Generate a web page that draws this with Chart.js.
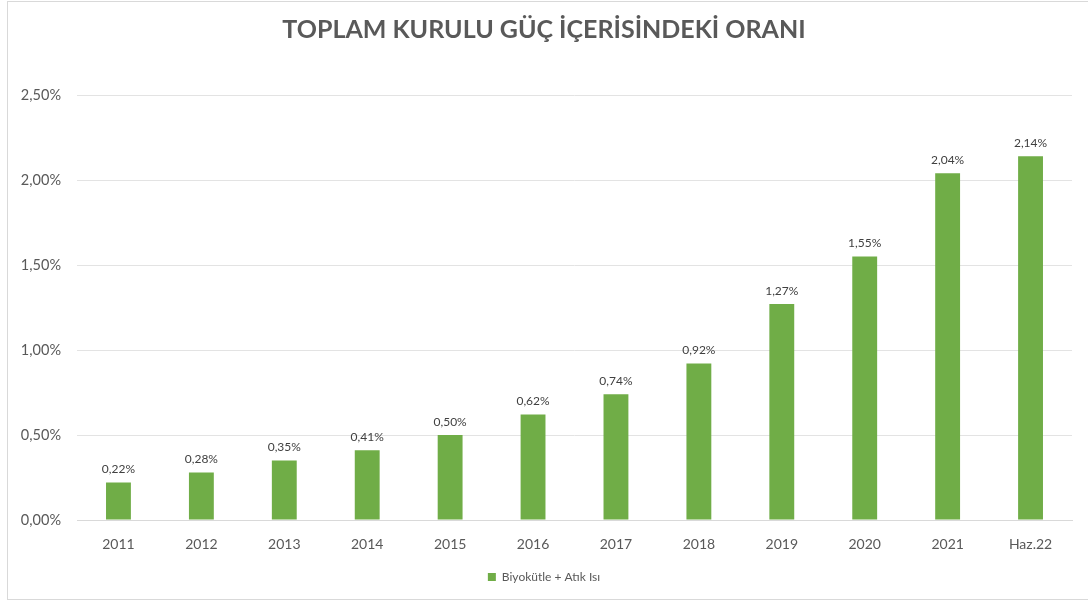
<!DOCTYPE html>
<html>
<head>
  <meta charset="utf-8">
  <title>Toplam Kurulu Güç İçerisindeki Oranı</title>
  <script src="https://cdn.jsdelivr.net/npm/chart.js"></script>
  <style>
    html, body { margin: 0; padding: 0; background: #fff; }
    #frame { position: absolute; left: 7px; top: 1px; width: 1090px; height: 599px; border: 1px solid #d9d9d9; box-sizing: border-box; }
    #wrap { position: absolute; left: 0; top: 0; width: 1088px; height: 603px; }
  </style>
</head>
<body>
  <div id="frame"></div>
  <div id="wrap"><canvas id="chart"></canvas></div>
  <script>
    const years = ['2011', '2012', '2013', '2014', '2015', '2016', '2017', '2018', '2019', '2020', '2021', 'Haz.22'];
    const shares = [0.22, 0.28, 0.35, 0.41, 0.50, 0.62, 0.74, 0.92, 1.27, 1.55, 2.04, 2.14];
    const seriesName = 'Biyokütle + Atık Isı';
    const chartTitle = 'TOPLAM KURULU GÜÇ İÇERİSİNDEKİ ORANI';

    const fmt = v => v.toFixed(2).replace('.', ',') + '%';

    // bar value labels, drawn above each bar
    const valueLabels = {
      id: 'valueLabels',
      afterDatasetsDraw(chart) {
        const ctx = chart.ctx;
        ctx.save();
        ctx.font = '12px Lato';
        ctx.fillStyle = '#404040';
        ctx.textAlign = 'center';
        ctx.textBaseline = 'bottom';
        chart.getDatasetMeta(0).data.forEach((bar, i) => {
          ctx.fillText(fmt(shares[i]), bar.x, bar.y - 7);
        });
        ctx.restore();
      }
    };

    const ctx = document.getElementById('chart').getContext('2d');
    new Chart(ctx, {
      type: 'bar',
      data: {
        labels: years,
        datasets: [{
          label: seriesName,
          data: shares,
          backgroundColor: '#70ad47',
          borderWidth: 0,
          barPercentage: 0.6,
          categoryPercentage: 0.5
        }]
      },
      options: {
        responsive: true,
        maintainAspectRatio: false,
        animation: false,
        layout: { padding: { left: 16, right: 16, top: 0, bottom: 10 } },
        plugins: {
          title: {
            display: true,
            text: chartTitle,
            color: '#595959',
            font: { family: 'Lato', size: 25, weight: 'bold' },
            padding: { top: 15, bottom: 50 }
          },
          legend: {
            position: 'bottom',
            labels: {
              color: '#595959',
              font: { family: 'Lato', size: 12 },
              boxWidth: 8,
              boxHeight: 8,
              padding: 10
            }
          },
          tooltip: { enabled: false }
        },
        scales: {
          x: {
            grid: { display: false, drawTicks: false },
            border: { display: true, color: '#d9d9d9' },
            ticks: { color: '#595959', font: { family: 'Lato', size: 14 }, padding: 16 },
            afterFit(scale) { scale.height = 41; }
          },
          y: {
            min: 0,
            max: 2.5,
            grid: { color: '#e3e3e3', drawTicks: false },
            border: { display: false },
            ticks: {
              stepSize: 0.5,
              color: '#595959',
              font: { family: 'Lato', size: 14.5 },
              padding: 16,
              callback: v => fmt(v)
            },
            afterFit(scale) { scale.width = 61; }
          }
        }
      },
      plugins: [valueLabels]
    });
  </script>
</body>
</html>
